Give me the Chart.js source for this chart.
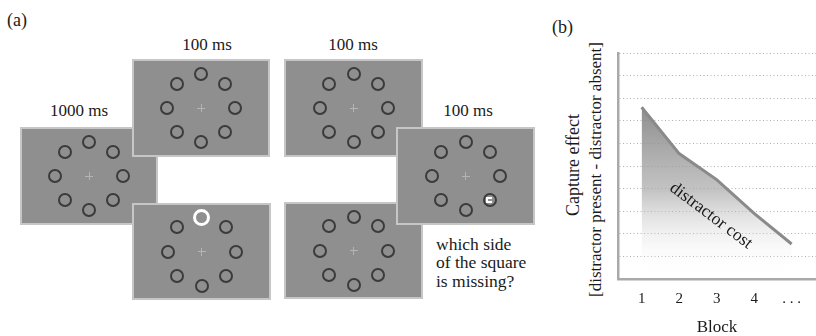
<!DOCTYPE html>
<html>
<head>
<meta charset="utf-8">
<script src="https://cdn.jsdelivr.net/npm/chart.js@4.4.0/dist/chart.umd.min.js"></script>
<style>
  body { margin: 0; background: #fff; }
  #fig { position: relative; width: 816px; height: 336px; overflow: hidden; font-family: "Liberation Serif", serif; color: #1a1a1a; }
  .lbl { position: absolute; font-size: 17px; line-height: 17px; white-space: nowrap; }
  .ctr { width: 120px; text-align: center; }
  .disp { position: absolute; box-sizing: border-box; background: #8f8f8f; border: 2px solid #c6c6c6; }
  .ring { position: absolute; box-sizing: border-box; width: 14px; height: 14px; border: 2.5px solid #3b3b3b; border-radius: 50%; }
  .cross { position: absolute; background: #b4b4b4; }
  .ytitle { position: absolute; width: 320px; text-align: center; white-space: nowrap; transform: rotate(-90deg); }
  #chartB { position: absolute; left: 560px; top: 0; }
</style>
</head>
<body>
<div id="fig">
  <div class="lbl" style="left:7px;top:11px;font-size:18px;line-height:18px;">(a)</div>
  <div class="lbl ctr" style="left:19px;top:102px;">1000 ms</div>
  <div class="lbl ctr" style="left:147px;top:36px;">100 ms</div>
  <div class="lbl ctr" style="left:293px;top:36px;">100 ms</div>
  <div class="lbl ctr" style="left:408px;top:102px;">100 ms</div>
  <div class="lbl" style="left:436px;top:235px;font-size:17.5px;line-height:18.3px;">which side<br>of the square<br>is missing?</div>

  <div class="lbl" style="left:552px;top:18px;font-size:18px;line-height:18px;">(b)</div>
  <div class="ytitle" style="left:413px;top:156px;font-size:18px;line-height:18px;">Capture effect</div>
  <div class="ytitle" style="left:435px;top:161px;font-size:17px;line-height:17px;">[distractor present - distractor absent]</div>

  <canvas id="chartB" width="256" height="336"></canvas>
</div>

<script>
// panel (b) data
var blocks = ['1', '2', '3', '4', '. . .'];
var captureEffect = [7.6, 5.55, 4.4, 2.9, 1.55];
var yTicks = [0, 1, 2, 3, 4, 5, 6, 7, 8, 9, 10];

// panel (a): stimulus displays, drawn back to front
var displays = [
    { x: 20, y: 127, w: 138, h: 98 },
    { x: 284, y: 59, w: 139, h: 98 },
    { x: 284, y: 202, w: 139, h: 97 },
    { x: 132, y: 59, w: 138, h: 98 },
    { x: 132, y: 203, w: 139, h: 97, distractor: true },
    { x: 396, y: 127, w: 139, h: 98, target: true }
];

var fig = document.getElementById('fig');
displays.forEach(function (d) {
    var box = document.createElement('div');
    box.className = 'disp';
    box.style.left = d.x + 'px';
    box.style.top = d.y + 'px';
    box.style.width = d.w + 'px';
    box.style.height = d.h + 'px';
    fig.insertBefore(box, document.getElementById('chartB'));

    var cx = d.w / 2 - 2, cy = d.h / 2 - 2;
    // fixation cross
    var h = document.createElement('div');
    h.className = 'cross';
    h.style.cssText = 'left:' + (cx - 4) + 'px;top:' + (cy - 0.5) + 'px;width:8px;height:1px;';
    box.appendChild(h);
    var v = document.createElement('div');
    v.className = 'cross';
    v.style.cssText = 'left:' + (cx - 0.5) + 'px;top:' + (cy - 4) + 'px;width:1px;height:8px;';
    box.appendChild(v);

    for (var k = 0; k < 8; k++) {
        var a = k * Math.PI / 4;
        var px = cx + 34 * Math.sin(a);
        var py = cy - 34 * Math.cos(a);
        var c = document.createElement('div');
        c.className = 'ring';
        var size = 14;
        if (d.distractor && k === 0) {
            size = 17;
            c.style.border = '3.5px solid #fff';
        }
        c.style.width = size + 'px';
        c.style.height = size + 'px';
        c.style.left = (px - size / 2) + 'px';
        c.style.top = (py - size / 2) + 'px';
        if (d.target && k === 3) {
            var sq = document.createElement('div');
            sq.style.cssText = 'position:absolute;box-sizing:border-box;left:1.5px;top:1.5px;width:6px;height:6px;' +
                'border:2px solid #fff;border-right:none;';
            c.appendChild(sq);
        }
        box.appendChild(c);
    }
});

// panel (b): chart
Chart.defaults.font.family = '"Liberation Serif", serif';
Chart.defaults.color = '#1a1a1a';

var costLabel = {
    id: 'costLabel',
    afterDatasetsDraw: function (chart) {
        var ctx = chart.ctx;
        var x = chart.scales.x.getPixelForValue(2.85);
        var y = chart.scales.y.getPixelForValue(2.8);
        ctx.save();
        ctx.translate(x, y);
        ctx.rotate(37 * Math.PI / 180);
        ctx.font = '17.5px "Liberation Serif"';
        ctx.fillStyle = '#1a1a1a';
        ctx.textAlign = 'center';
        ctx.textBaseline = 'middle';
        ctx.fillText('distractor cost', 0, 0);
        ctx.restore();
    }
};

var ctx = document.getElementById('chartB').getContext('2d');
var chartB = new Chart(ctx, {
    type: 'line',
    data: {
        datasets: [{
            label: 'distractor cost',
            data: captureEffect.map(function (v, i) { return { x: i + 1, y: v }; }),
            borderColor: '#8a8a8a',
            borderWidth: 3,
            pointRadius: 0,
            tension: 0,
            fill: 'origin',
            backgroundColor: function (c) {
                var chart = c.chart;
                if (!chart.chartArea) return 'rgba(140,140,140,0.6)';
                var ys = chart.scales.y;
                var g = chart.ctx.createLinearGradient(0, ys.getPixelForValue(Math.max.apply(null, captureEffect)), 0, ys.getPixelForValue(0.2));
                g.addColorStop(0, 'rgba(125,125,125,0.88)');
                g.addColorStop(0.5, 'rgba(170,170,170,0.7)');
                g.addColorStop(1, 'rgba(255,255,255,0)');
                return g;
            }
        }]
    },
    options: {
        responsive: false,
        animation: false,
        layout: { padding: { top: 53, right: 0, left: 0, bottom: 0 } },
        plugins: { legend: { display: false }, tooltip: { enabled: false } },
        scales: {
            x: {
                type: 'linear',
                min: 0.37,
                max: 5.65,
                afterBuildTicks: function (s) {
                    s.ticks = blocks.map(function (b, i) { return { value: i + 1 }; });
                },
                afterFit: function (s) { s.height = 57; },
                grid: { display: false, drawTicks: false },
                border: { display: true, color: '#a9a9a9', width: 2.5 },
                ticks: {
                    padding: 11,
                    font: { size: 15 },
                    callback: function (v) { return blocks[v - 1]; }
                },
                title: { display: true, text: 'Block', font: { size: 17, lineHeight: 1 }, padding: 0 }
            },
            y: {
                min: 0,
                max: 10,
                afterBuildTicks: function (s) {
                    s.ticks = yTicks.map(function (t) { return { value: t }; });
                },
                afterFit: function (s) { s.width = 58; },
                ticks: { display: false },
                grid: { color: '#b0b0b0', lineWidth: 1, drawTicks: false },
                border: { display: true, color: '#a9a9a9', width: 2.5, dash: [1, 2.5] }
            }
        }
    },
    plugins: [costLabel]
});
</script>
</body>
</html>
